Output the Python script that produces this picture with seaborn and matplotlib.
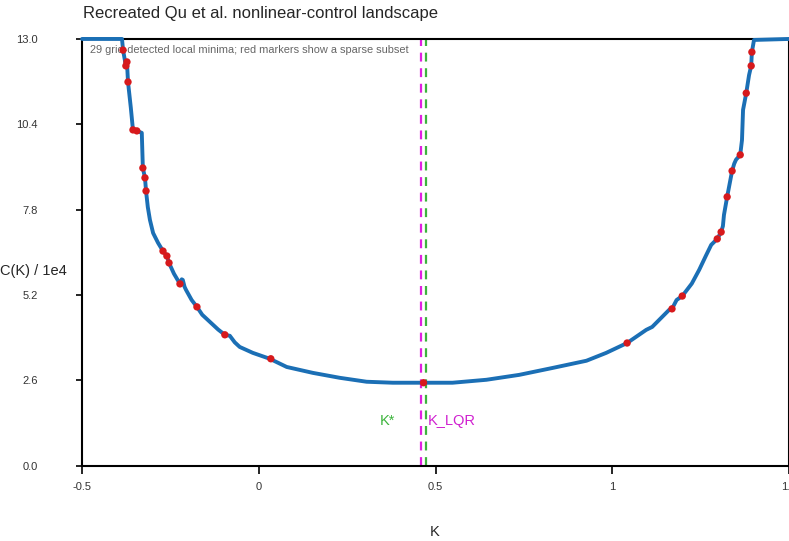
import matplotlib
matplotlib.use("Agg")
import matplotlib.pyplot as plt
import seaborn as sns
import pandas as pd

sns.set_theme(style="ticks")
plt.rcParams['font.family'] = ['Liberation Sans', 'DejaVu Sans']

# cost landscape (values clipped at 13)
k_vals = [-0.5, -0.387, -0.384, -0.373, -0.376, -0.370, -0.362, -0.356, -0.345, -0.331,
          -0.328, -0.322, -0.319, -0.314, -0.308, -0.299, -0.285, -0.271, -0.260, -0.254,
          -0.240, -0.223, -0.218, -0.215, -0.210, -0.206, -0.190, -0.175, -0.160, -0.138,
          -0.115, -0.096, -0.082, -0.068, -0.054, -0.017, 0.031, 0.079, 0.153, 0.229, 0.305,
          0.379, 0.463, 0.548, 0.644, 0.737, 0.831, 0.927, 0.983, 1.042, 1.096,
          1.113, 1.161, 1.169, 1.182, 1.198, 1.225, 1.246, 1.265, 1.280, 1.297,
          1.308, 1.313, 1.316, 1.325, 1.339, 1.345, 1.350, 1.362, 1.367, 1.370,
          1.379, 1.387, 1.393, 1.395, 1.401, 1.5]
c_vals = [13.0, 13.0, 12.66, 12.30, 12.18, 11.69, 10.90, 10.23, 10.20, 10.14,
          9.07, 8.77, 8.37, 7.88, 7.49, 7.09, 6.79, 6.54, 6.39, 6.18,
          5.85, 5.54, 5.68, 5.66, 5.45, 5.36, 5.05, 4.84, 4.60, 4.38,
          4.15, 3.99, 3.96, 3.76, 3.62, 3.44, 3.26, 3.01, 2.83, 2.68, 2.56,
          2.53, 2.53, 2.53, 2.62, 2.77, 2.98, 3.20, 3.44, 3.74, 4.14,
          4.23, 4.75, 4.78, 5.05, 5.17, 5.55, 5.97, 6.40, 6.73, 6.91,
          7.12, 7.30, 7.64, 8.19, 8.98, 9.20, 9.32, 9.47, 9.92, 10.84,
          11.35, 11.90, 12.18, 12.60, 12.97, 13.0]

# sparse subset of detected local minima
min_k = [-0.384, -0.373, -0.376, -0.370, -0.356, -0.345, -0.328, -0.322, -0.319, -0.271,
         -0.260, -0.254, -0.223, -0.175, -0.096, 0.034, 0.466, 1.042, 1.169, 1.198,
         1.297, 1.308, 1.325, 1.339, 1.362, 1.379, 1.393, 1.395]
min_c = [12.66, 12.30, 12.18, 11.69, 10.23, 10.20, 9.07, 8.77, 8.37, 6.54,
         6.39, 6.18, 5.54, 4.84, 3.99, 3.26, 2.53, 3.74, 4.78, 5.17,
         6.91, 7.12, 8.19, 8.98, 9.47, 11.35, 12.18, 12.60]

k_star = 0.472
k_lqr = 0.458
y_ticks = [0.0, 2.6, 5.2, 7.8, 10.4, 13.0]
x_ticks = [-0.5, 0, 0.5, 1, 1.5]
x_tick_labels = ["-0.5", "0", "0.5", "1", "1.5"]

curve = pd.DataFrame({"K": k_vals, "C": c_vals})
minima = pd.DataFrame({"K": min_k, "C": min_c})

fig = plt.figure(figsize=(7.89, 5.41), dpi=100)
ax = fig.add_axes([0.104, 0.139, 0.896, 0.789])

sns.lineplot(data=curve, x="K", y="C", ax=ax, color="#1b6fb5", linewidth=2.8,
             clip_on=False, zorder=3)
sns.scatterplot(data=minima, x="K", y="C", ax=ax, color="#d7191c", s=28,
                edgecolor="none", zorder=4, clip_on=False)

ax.axvline(k_lqr, color="#e020e0", linestyle=(0, (4, 3)), linewidth=1.6, zorder=2)
ax.axvline(k_star, color="#3cb43c", linestyle=(0, (4, 3)), linewidth=1.6, zorder=2)
ax.text(0.386, 1.37, "K*", color="#3cb43c", fontsize=10.5, ha="right", va="center")
ax.text(0.477, 1.37, "K_LQR", color="#d020d0", fontsize=10.5, ha="left", va="center")

ax.text(-0.478, 12.65, "29 grid-detected local minima; red markers show a sparse subset",
        color="#666666", fontsize=7.9, ha="left", va="center")

ax.set_xlim(-0.5, 1.5)
ax.set_ylim(0, 13)
ax.set_xticks(x_ticks)
ax.set_xticklabels(x_tick_labels)
ax.set_yticks(y_ticks)
ax.set_yticklabels([f"{v:.1f}" for v in y_ticks])
ax.tick_params(axis="y", length=4, width=1.2, pad=28, labelsize=8, colors="black",
               labelcolor="#333333")
ax.tick_params(axis="x", length=6, width=1.2, pad=6, labelsize=8, colors="black",
               labelcolor="#333333")
for s in ax.spines.values():
    s.set_color("black")
    s.set_linewidth(1.5)

ax.set_xlabel("")
ax.set_ylabel("")
fig.text(0.551, 0.016, "K", fontsize=10.5, ha="center", va="center")
fig.text(0.0, 0.5, "C(K) / 1e4", fontsize=10.5, ha="left", va="center")
fig.text(0.105, 0.975, "Recreated Qu et al. nonlinear-control landscape", fontsize=12,
         ha="left", va="center")

fig.savefig("out.png", dpi=100)
